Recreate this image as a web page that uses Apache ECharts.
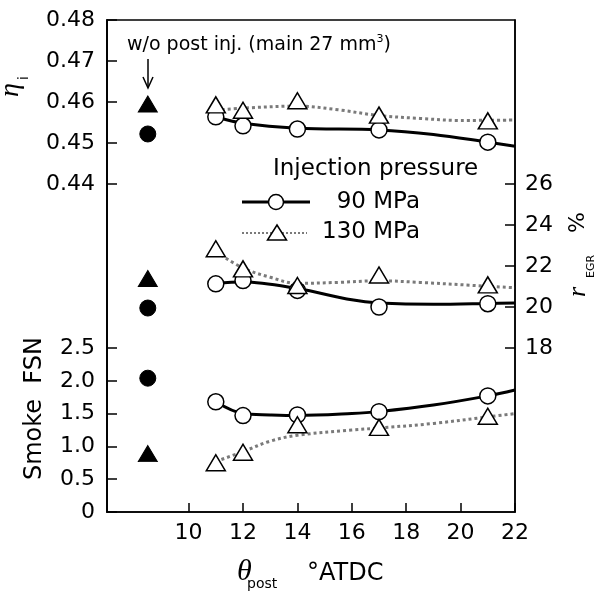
<!DOCTYPE html>
<html><head><meta charset="utf-8">
<script src="https://cdn.jsdelivr.net/npm/echarts@6/dist/echarts.min.js"></script>
<style>html,body{margin:0;padding:0;background:#fff}#c{width:601px;height:593px}</style>
</head><body><div id="c"></div>
<script>
// ---- data ----
const postTiming = [11, 12, 14, 17, 21];
const noPostX = 8.5;
const xTicks = [10, 12, 14, 16, 18, 20, 22];

// indicated thermal efficiency
const eta90 = [0.4564, 0.4542, 0.4534, 0.4532, 0.4502];
const eta130 = [0.4593, 0.4580, 0.4603, 0.4568, 0.4554];
const etaNoPost90 = 0.4522;
const etaNoPost130 = 0.4595;
const etaFit90X = [11, 12, 14, 17, 19, 21, 22];
const etaFit90 = [0.4564, 0.4548, 0.4536, 0.4532, 0.4521, 0.4502, 0.4492];
const etaFit130X = [11, 12, 14, 15.5, 17, 18.5, 20, 22];
const etaFit130 = [0.4580, 0.4585, 0.4590, 0.4581, 0.4567, 0.4560, 0.4555, 0.4556];
const etaTicks = [0.44, 0.45, 0.46, 0.47, 0.48];

// EGR rate
const egr90 = [21.13, 21.29, 20.81, 20.0, 20.16];
const egr130 = [22.84, 21.86, 21.05, 21.56, 21.08];
const egrNoPost90 = 19.95;
const egrNoPost130 = 21.39;
const egrFit90X = [11, 12, 14, 16, 17, 19, 21, 22];
const egrFit90 = [21.15, 21.22, 20.9, 20.35, 20.2, 20.13, 20.17, 20.2];
const egrFit130X = [11, 12, 13, 14, 15.5, 17, 18.5, 20.5, 22];
const egrFit130 = [22.7, 21.9, 21.45, 21.15, 21.2, 21.28, 21.2, 21.05, 20.94];
const egrTicks = [18, 20, 22, 24, 26];

// Smoke
const smoke90 = [1.68, 1.47, 1.48, 1.53, 1.77];
const smoke130 = [0.75, 0.91, 1.33, 1.29, 1.46];
const smokeNoPost90 = 2.04;
const smokeNoPost130 = 0.89;
const smokeFitX = [11, 12, 13, 14, 16, 17, 19, 21, 22];
const smokeFit90 = [1.68, 1.50, 1.48, 1.47, 1.50, 1.53, 1.63, 1.77, 1.86];
const smokeFit130 = [0.77, 0.92, 1.08, 1.17, 1.25, 1.28, 1.35, 1.45, 1.50];
const smokeTicks = [0, 0.5, 1.0, 1.5, 2.0, 2.5];

// ---- helpers ----
const zip = (xs, ys) => xs.map((x, i) => [x, ys[i]]);
const SANS = 'DejaVu Sans';
const SERIF = 'Liberation Serif';
const G = { left: 107, top: 20, width: 408, height: 492 };

function fitLine(xs, ys, yIdx, dotted) {
  return {
    type: 'line', yAxisIndex: yIdx, data: zip(xs, ys), smooth: 0.35,
    showSymbol: false, symbol: 'none', silent: true, z: 2,
    lineStyle: dotted ? { color: '#7a7a7a', width: 3, type: [3, 3], opacity: 1 } : { color: '#000', width: 3, opacity: 1 }
  };
}
function markers(xs, ys, yIdx, shape, filled) {
  return {
    type: 'scatter', yAxisIndex: yIdx, data: zip(xs, ys),
    symbol: shape, symbolSize: shape === 'triangle' ? [19, 16] : 16,
    z: shape === 'triangle' ? 5 : 4, silent: true,
    itemStyle: filled ? { color: '#000', borderColor: '#000', borderWidth: 1, opacity: 1 }
                      : { color: '#fff', borderColor: '#000', borderWidth: 1.5, opacity: 1 }
  };
}
function yAx(pos, min, max, ticks, fmt, margin) {
  return {
    type: 'value', position: pos, min: min, max: max, scale: true,
    axisLine: { show: true, onZero: false, lineStyle: { color: '#000', width: 1.5 } },
    axisTick: { show: true, inside: true, length: 10, customValues: ticks, lineStyle: { color: '#000', width: 1.5 } },
    axisLabel: { show: true, customValues: ticks, formatter: fmt, margin: margin,
      fontFamily: SANS, fontSize: 22, color: '#000' },
    splitLine: { show: false }
  };
}
function txt(text, x, baseline, size, family, extra) {
  return {
    type: 'text', silent: true,
    style: Object.assign({
      text: text, x: x, y: baseline - 0.345 * size,
      fontSize: size, fontFamily: family, fill: '#000',
      align: 'left', verticalAlign: 'middle', textAlign: 'left', textVerticalAlign: 'middle'
    }, extra || {})
  };
}

const chart = echarts.init(document.getElementById('c'), null, { renderer: 'canvas' });
chart.setOption({
  animation: false,
  backgroundColor: '#fff',
  grid: Object.assign({ show: true, borderColor: '#000', borderWidth: 1.5, backgroundColor: 'transparent' }, G),
  xAxis: {
    type: 'value', min: 7, max: 22,
    axisLine: { show: true, onZero: false, lineStyle: { color: '#000', width: 1.5 } },
    axisTick: { show: true, inside: true, length: 9, customValues: xTicks, lineStyle: { color: '#000', width: 1.5 } },
    axisLabel: { show: true, customValues: xTicks, margin: 10, fontFamily: SANS, fontSize: 22, color: '#000' },
    splitLine: { show: false }
  },
  yAxis: [
    yAx('left', 0.36, 0.48, etaTicks, v => v.toFixed(2), 12),
    yAx('left', 0, 7.5, smokeTicks, v => (v === 0 ? '0' : v.toFixed(1)), 12),
    yAx('right', 10, 34, egrTicks, v => String(v), 10)
  ],
  series: [
    fitLine(etaFit90X, etaFit90, 0, false),
    fitLine(etaFit130X, etaFit130, 0, true),
    fitLine(egrFit90X, egrFit90, 2, false),
    fitLine(egrFit130X, egrFit130, 2, true),
    fitLine(smokeFitX, smokeFit90, 1, false),
    fitLine(smokeFitX, smokeFit130, 1, true),
    markers(postTiming, eta90, 0, 'circle', false),
    markers(postTiming, eta130, 0, 'triangle', false),
    markers(postTiming, egr90, 2, 'circle', false),
    markers(postTiming, egr130, 2, 'triangle', false),
    markers(postTiming, smoke90, 1, 'circle', false),
    markers(postTiming, smoke130, 1, 'triangle', false),
    markers([noPostX], [etaNoPost90], 0, 'circle', true),
    markers([noPostX], [etaNoPost130], 0, 'triangle', true),
    markers([noPostX], [egrNoPost90], 2, 'circle', true),
    markers([noPostX], [egrNoPost130], 2, 'triangle', true),
    markers([noPostX], [smokeNoPost90], 1, 'circle', true),
    markers([noPostX], [smokeNoPost130], 1, 'triangle', true)
  ],
  graphic: [
    // annotation for points without post injection
    {
      type: 'text', silent: true,
      style: {
        text: '{a|w/o post inj. (main 27 mm}{s|3}{a|)}',
        x: 127, y: 52 - 0.345 * 19, align: 'left', verticalAlign: 'middle',
        textAlign: 'left', textVerticalAlign: 'middle',
        rich: {
          a: { fontFamily: SANS, fontSize: 19, lineHeight: 24, fill: '#000' },
          s: { fontFamily: SANS, fontSize: 11, lineHeight: 12, verticalAlign: 'top', fill: '#000' }
        }
      }
    },
    { type: 'line', silent: true, shape: { x1: 148, y1: 59, x2: 148, y2: 87 }, style: { stroke: '#000', lineWidth: 1.5 } },
    { type: 'polyline', silent: true, shape: { points: [[143, 77], [148, 88], [153, 77]] }, style: { stroke: '#000', lineWidth: 1.5, fill: null } },

    // legend
    txt('Injection pressure', 273, 177, 23, SANS),
    { type: 'line', silent: true, shape: { x1: 242, y1: 202, x2: 310, y2: 202 }, style: { stroke: '#000', lineWidth: 3 } },
    { type: 'circle', silent: true, shape: { cx: 276, cy: 202, r: 7.5 }, style: { fill: '#fff', stroke: '#000', lineWidth: 1.5 } },
    txt('90 MPa', 420, 210, 23, SANS, { align: 'right', textAlign: 'right' }),
    { type: 'line', silent: true, shape: { x1: 242, y1: 233, x2: 307, y2: 233 }, style: { stroke: '#7a7a7a', lineWidth: 2, lineDash: [2, 2] } },
    { type: 'polygon', silent: true, shape: { points: [[277, 225], [286.5, 240], [267.5, 240]] }, style: { fill: '#fff', stroke: '#000', lineWidth: 1.5 } },
    txt('130 MPa', 420, 240, 23, SANS, { align: 'right', textAlign: 'right' }),

    // left axis names (rotated)
    { type: 'group', x: 20, y: 97, rotation: Math.PI / 2, silent: true, children: [
      txt('η', 0, 0, 28, SERIF, { fontStyle: 'italic' }),
      txt('i', 17, 9, 14, SANS)
    ]},
    { type: 'group', x: 43, y: 480, rotation: Math.PI / 2, silent: true, children: [
      txt('Smoke  FSN', 0, 0, 24, SANS)
    ]},
    // right axis name
    { type: 'group', x: 587, y: 297, rotation: Math.PI / 2, silent: true, children: [
      txt('r', 0, 0, 26, SERIF, { fontStyle: 'italic' }),
      txt('EGR', 19, 8, 11, SANS),
      txt('%', 64, -1, 22, SANS)
    ]},
    // x axis name
    txt('θ', 237, 582, 30, SERIF, { fontStyle: 'italic' }),
    txt('post', 247, 589, 14, SANS),
    txt('°ATDC', 307, 582, 24, SANS)
  ]
});
</script>
</body></html>
